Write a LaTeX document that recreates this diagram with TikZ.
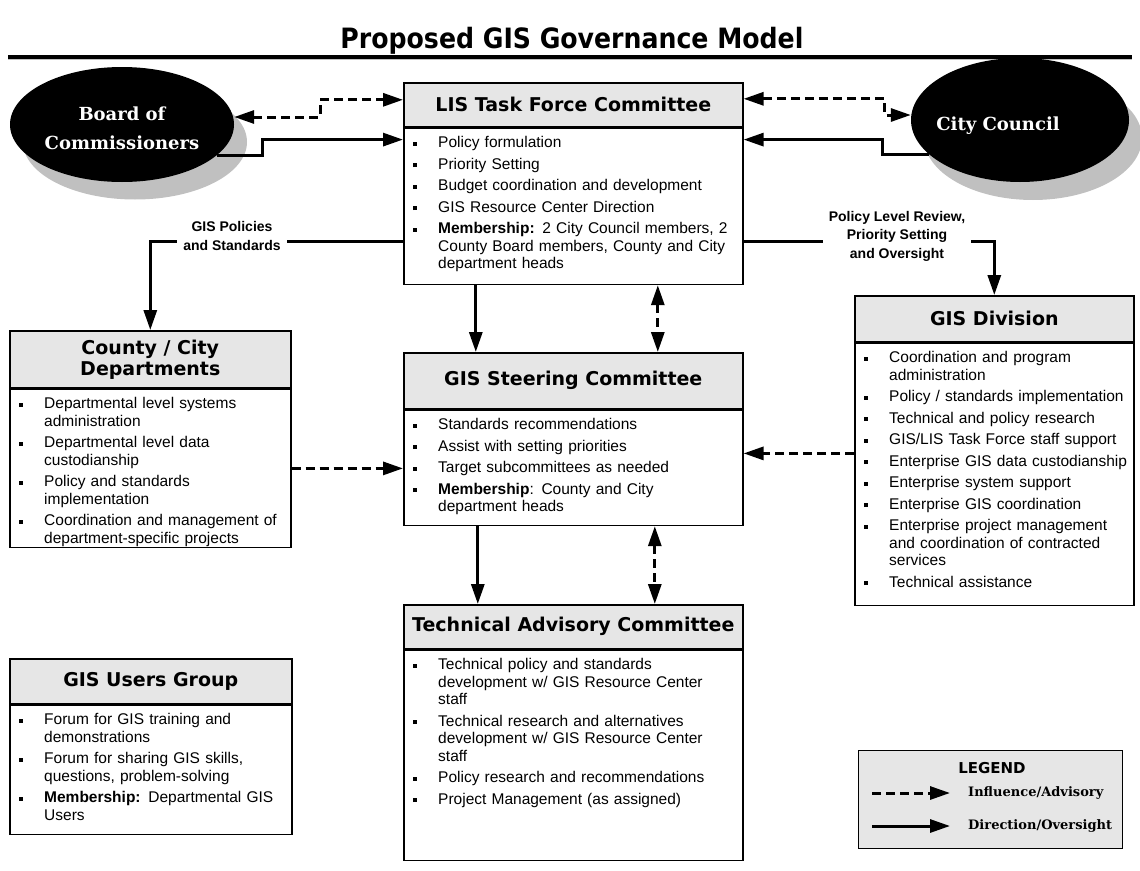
\documentclass[tikz,border=0pt]{standalone}
\usepackage{fontspec}
\setmainfont{Liberation Sans}
\newfontfamily\hdrfont{DejaVu Sans}
\newfontfamily\titlefont{DejaVu Sans Condensed}
\newfontfamily\ovalfont{DejaVu Serif}
\usetikzlibrary{arrows.meta,shapes.geometric,calc}

\definecolor{hdrgray}{RGB}{230,230,230}
\definecolor{shadowgray}{RGB}{192,192,192}

% bullet item with hanging indent
\newcommand\itm[1]{\hangindent=25pt\hangafter=1\makebox[25pt][l]{\rule[2pt]{4pt}{4pt}}#1\par}

% a committee box: header, framed body, body text
\newcommand\govbox[8]{%
  \node[hdr, minimum width=#4, minimum height=#5, anchor=north west] (#1-h) at (#2,#3) {#7};
  \node[bodybox, minimum width=#4, minimum height=#6, anchor=north west] (#1-b) at (#1-h.south west) {};
  \node[bodytext, anchor=base west] (#1-t) at ([xshift=10pt,yshift=-20pt]#1-h.south west) {\setlength\parskip{4pt}#8};
}

\tikzset{
  hdr/.style={draw, line width=1.6pt, fill=hdrgray, inner sep=0pt, align=center,
    font=\hdrfont\bfseries\fontsize{19}{21}\selectfont},
  bodybox/.style={draw, line width=1.6pt, fill=white, inner sep=0pt},
  bodytext/.style={inner sep=0pt, text width=320pt, align=left,
    font=\fontsize{15.5}{17.5}\selectfont},
  >={Triangle[length=20pt,width=13pt]},
  direct/.style={line width=3pt},
  influence/.style={line width=3pt, dash pattern=on 9pt off 5pt},
  oval/.style={ellipse, fill=black, inner sep=0pt},
  ovalshadow/.style={ellipse, fill=shadowgray, inner sep=0pt},
  ovaltext/.style={text=white, align=center, font=\ovalfont\bfseries\fontsize{18}{29}\selectfont},
  flowlabel/.style={fill=white, align=center, inner sep=6pt,
    font=\bfseries\fontsize{14}{18.5}\selectfont},
  legendtext/.style={anchor=west, inner sep=0pt, font=\ovalfont\bfseries\fontsize{13}{15}\selectfont}
}

\begin{document}
\begin{tikzpicture}[x=1pt,y=-1pt]
\useasboundingbox (0,0) rectangle (1140,870);

% title and rule
\node[font=\titlefont\bfseries\fontsize{28}{30}\selectfont] (title) at (572,41) {Proposed GIS Governance Model};
\draw[line width=3.5pt] (8,57) -- (1132,57);
\draw[line width=1pt, shadowgray] (8,59.8) -- (1132,59.8);

% the two governing bodies, with drop shadows
\node[ovalshadow, minimum width=224, minimum height=115] (board-sh) at (135,142) {};
\node[ovalshadow, minimum width=218, minimum height=124] (city-sh) at (1033,138) {};
\node[oval, minimum width=224, minimum height=115] (board) at (122,124.5) {};
\node[oval, minimum width=218, minimum height=124] (city) at (1020,120) {};
\node[ovaltext] (board-t) at (122,128) {Board of\\Commissioners};
\node[ovaltext] (city-t) at (998,126) {City Council};

% committee boxes
\govbox{lis}{403}{82}{339}{44}{156}{LIS Task Force Committee}{%
\itm{Policy formulation}
\itm{Priority Setting}
\itm{Budget coordination and development}
\itm{GIS Resource Center Direction}
\itm{\textbf{Membership:} 2 City Council members, 2\newline County Board members, County and City\newline department heads}}

\govbox{st}{403}{352}{339}{56}{115}{GIS Steering Committee}{%
\itm{Standards recommendations}
\itm{Assist with setting priorities}
\itm{Target subcommittees as needed}
\itm{\textbf{Membership}: County and City\newline department heads}}

\govbox{tac}{403}{604}{339}{44}{210}{Technical Advisory Committee}{%
\itm{Technical policy and standards\newline development w/ GIS Resource Center\newline staff}
\itm{Technical research and alternatives\newline development w/ GIS Resource Center\newline staff}
\itm{Policy research and recommendations}
\itm{Project Management (as assigned)}}

\govbox{cnt}{9}{330}{281}{57}{158}{County / City\\Departments}{%
\itm{Departmental level systems\newline administration}
\itm{Departmental level data\newline custodianship}
\itm{Policy and standards\newline implementation}
\itm{Coordination and management of\newline department-specific projects}}

\govbox{usr}{9}{658}{282}{45}{129}{GIS Users Group}{%
\itm{Forum for GIS training and\newline demonstrations}
\itm{Forum for sharing GIS skills,\newline questions, problem-solving}
\itm{\textbf{Membership:} Departmental GIS\newline Users}}

\govbox{gd}{854}{295}{279}{46}{262}{GIS Division}{%
\itm{Coordination and program\newline administration}
\itm{Policy / standards implementation}
\itm{Technical and policy research}
\itm{GIS/LIS Task Force staff support}
\itm{Enterprise GIS data custodianship}
\itm{Enterprise system support}
\itm{Enterprise GIS coordination}
\itm{Enterprise project management\newline and coordination of contracted\newline services}
\itm{Technical assistance}}

% links between the governing bodies and the task force
\draw[influence, <->] ([yshift=7.5pt]board.east) -- ++(86,0) |- ([yshift=5pt]lis-h.west);
\draw[direct, ->] (board.-18) -- ++(46,0) |- ([yshift=-12pt]lis-h.south west);
\draw[influence, <->] ([yshift=6pt]lis-h.east) -- ++(141,0) |- ([yshift=5pt]city.west);
\draw[direct, ->] (city.201) -- ++(-47,0) |- ([yshift=-12pt]lis-h.south east);

% policy lines out of the task force
\draw[direct, ->] ([yshift=44pt]lis-b.south west) -| (cnt-h.north);
\node[flowlabel] (lbl-pol) at (232,236) {GIS Policies\\and Standards};
\draw[direct, ->] ([yshift=44pt]lis-b.south east) -| (gd-h.north);
\node[flowlabel] (lbl-rev) at (897,236) {Policy Level Review,\\Priority Setting\\and Oversight};

% vertical chain
\draw[direct, ->] ([xshift=-97.5pt]lis-b.south) -- ([xshift=-97.5pt]st-h.north);
\draw[influence, <->] ([xshift=84.5pt]lis-b.south) -- ([xshift=84.5pt]st-h.north);
\draw[direct, ->] ([xshift=-95.5pt]st-b.south) -- ([xshift=-95.5pt]tac-h.north);
\draw[influence, <->] ([xshift=81.5pt]st-b.south) -- ([xshift=81.5pt]tac-h.north);

% advisory links into the steering committee
\draw[influence, ->] (cnt-b.east) -- (cnt-b.east -| st-b.west);
\coordinate (gd-out) at ([yshift=21pt]gd-b.west);
\draw[influence, ->] (gd-out) -- (gd-out -| st-b.east);

% legend
\node[draw, line width=1pt, fill=hdrgray, minimum width=264, minimum height=98, anchor=north west, inner sep=0pt] (leg) at (858,750) {};
\node[font=\hdrfont\bfseries\fontsize{15}{17}\selectfont] (leg-t) at (992,768) {LEGEND};
\coordinate (leg-a1) at (872,793);
\coordinate (leg-a2) at (950,793);
\coordinate (leg-b1) at (872,826);
\coordinate (leg-b2) at (950,826);
\draw[influence, ->] (leg-a1) -- (leg-a2);
\draw[direct, ->] (leg-b1) -- (leg-b2);
\node[legendtext] (leg-inf) at (968,793) {Influence/Advisory};
\node[legendtext] (leg-dir) at (968,826) {Direction/Oversight};
\end{tikzpicture}
\end{document}
